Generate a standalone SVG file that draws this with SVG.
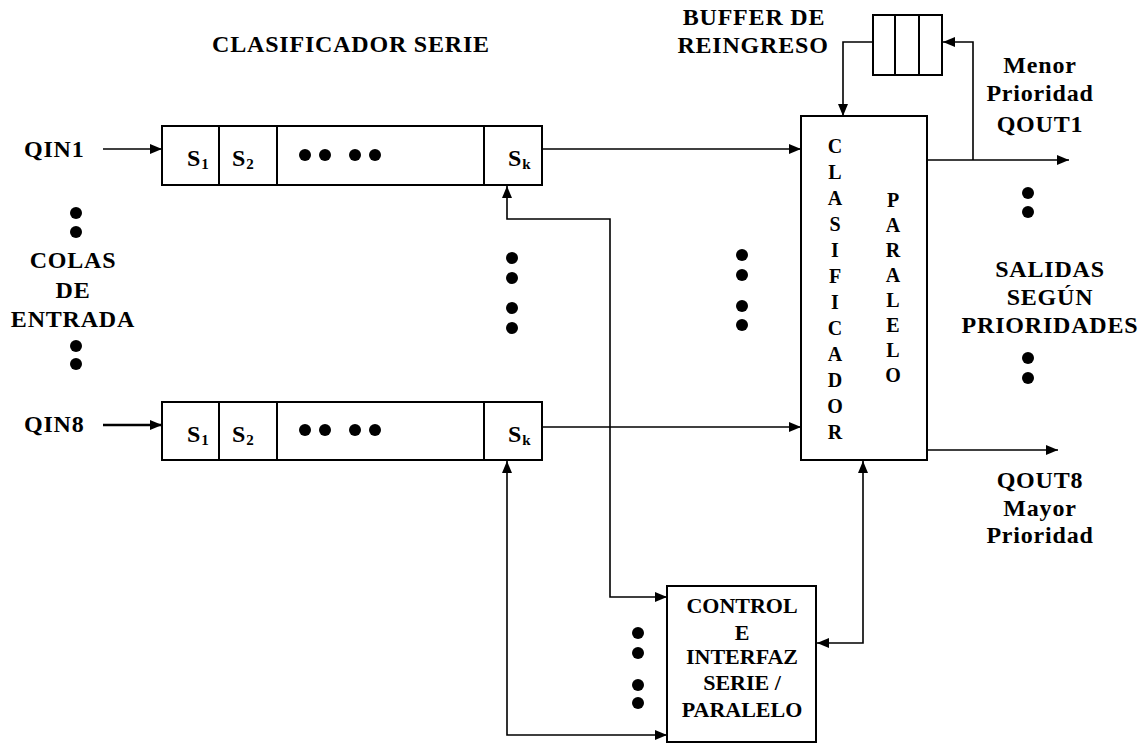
<svg xmlns="http://www.w3.org/2000/svg" width="1144" height="744" viewBox="0 0 1144 744">
<style>
text{font-family:"Liberation Serif","Times New Roman",serif;fill:#000;font-weight:bold}
.t{font-size:24px;letter-spacing:0.8px}
.m{font-size:22px}
.v{font-size:20px}
.c{text-anchor:middle}
.sub{font-size:15px;letter-spacing:0}
.box{fill:#fff;stroke:#000;stroke-width:2}
.ln{fill:none;stroke:#000;stroke-width:1.6}
.div{stroke:#000;stroke-width:2}
.dot{fill:#000}
</style>
<defs>
<marker id="ah" markerUnits="userSpaceOnUse" markerWidth="12" markerHeight="12" viewBox="0 0 12 12" refX="12" refY="6" orient="auto">
<path d="M0,1 L12,6 L0,11 z" fill="#000"/>
</marker>
<marker id="ahs" markerUnits="userSpaceOnUse" markerWidth="12" markerHeight="12" viewBox="0 0 12 12" refX="0" refY="6" orient="auto">
<path d="M12,1 L0,6 L12,11 z" fill="#000"/>
</marker>
</defs>
<rect width="1144" height="744" fill="#fff"/>

<g id="connectors">
<line class="ln" x1="103" y1="149" x2="162" y2="149" marker-end="url(#ah)"/>
<line class="ln" x1="103" y1="425" x2="162" y2="425" style="stroke-width:2.6" marker-end="url(#ah)"/>
<line class="ln" x1="542" y1="149" x2="801" y2="149" marker-end="url(#ah)"/>
<line class="ln" x1="542" y1="427" x2="801" y2="427" marker-end="url(#ah)"/>
<polyline class="ln" points="507,186 507,219 610,219 610,597 667,597" marker-start="url(#ahs)" marker-end="url(#ah)"/>
<polyline class="ln" points="507,461 507,735 667,735" marker-start="url(#ahs)" marker-end="url(#ah)"/>
<polyline class="ln" points="817,643 863,643 863,461" marker-start="url(#ahs)" marker-end="url(#ah)"/>
<polyline class="ln" points="873,42 843,42 843,116" marker-end="url(#ah)"/>
<line class="ln" x1="927" y1="160" x2="1069" y2="160" marker-end="url(#ah)"/>
<polyline class="ln" points="973,160 973,42 943,42" marker-end="url(#ah)"/>
<line class="ln" x1="927" y1="450" x2="1058" y2="450" marker-end="url(#ah)"/>
</g>

<g id="queue-top">
<rect class="box" x="162" y="126" width="380" height="59"/>
<line class="div" x1="219" y1="126" x2="219" y2="185"/>
<line class="div" x1="277" y1="126" x2="277" y2="185"/>
<line class="div" x1="484" y1="126" x2="484" y2="185"/>
<text class="t" x="187" y="166">S<tspan class="sub" dy="3">1</tspan></text>
<text class="t" x="232" y="166">S<tspan class="sub" dy="3">2</tspan></text>
<text class="t" x="508" y="166">S<tspan class="sub" dy="3">k</tspan></text>
<circle class="dot" cx="305" cy="155" r="6"/>
<circle class="dot" cx="325" cy="155" r="6"/>
<circle class="dot" cx="355" cy="155" r="6"/>
<circle class="dot" cx="375" cy="155" r="6"/>
</g>

<g id="queue-bottom">
<rect class="box" x="162" y="402" width="380" height="58"/>
<line class="div" x1="219" y1="402" x2="219" y2="460"/>
<line class="div" x1="277" y1="402" x2="277" y2="460"/>
<line class="div" x1="484" y1="402" x2="484" y2="460"/>
<text class="t" x="187" y="442">S<tspan class="sub" dy="3">1</tspan></text>
<text class="t" x="232" y="442">S<tspan class="sub" dy="3">2</tspan></text>
<text class="t" x="508" y="442">S<tspan class="sub" dy="3">k</tspan></text>
<circle class="dot" cx="305" cy="430" r="6"/>
<circle class="dot" cx="325" cy="430" r="6"/>
<circle class="dot" cx="355" cy="430" r="6"/>
<circle class="dot" cx="375" cy="430" r="6"/>
</g>

<g id="buffer">
<rect class="box" x="873" y="15" width="69" height="60"/>
<line class="div" x1="895" y1="15" x2="895" y2="75"/>
<line class="div" x1="919" y1="15" x2="919" y2="75"/>
</g>

<g id="clasificador-paralelo">
<rect class="box" x="801" y="116" width="126" height="344"/>
<text class="v c"><tspan x="835" y="153">C</tspan><tspan x="835" dy="26">L</tspan><tspan x="835" dy="26">A</tspan><tspan x="835" dy="26">S</tspan><tspan x="835" dy="26">I</tspan><tspan x="835" dy="26">F</tspan><tspan x="835" dy="26">I</tspan><tspan x="835" dy="26">C</tspan><tspan x="835" dy="26">A</tspan><tspan x="835" dy="26">D</tspan><tspan x="835" dy="26">O</tspan><tspan x="835" dy="26">R</tspan></text>
<text class="v c"><tspan x="893" y="207">P</tspan><tspan x="893" dy="25">A</tspan><tspan x="893" dy="25">R</tspan><tspan x="893" dy="25">A</tspan><tspan x="893" dy="25">L</tspan><tspan x="893" dy="25">E</tspan><tspan x="893" dy="25">L</tspan><tspan x="893" dy="25">O</tspan></text>
</g>

<g id="control">
<rect class="box" x="667" y="586" width="149" height="156"/>
<text class="m c" x="742" y="613">CONTROL</text>
<text class="m c" x="742" y="640">E</text>
<text class="m c" x="742" y="664">INTERFAZ</text>
<text class="m c" x="742" y="690">SERIE /</text>
<text class="m c" x="742" y="717">PARALELO</text>
</g>

<g id="labels">
<text class="t c" x="351" y="52">CLASIFICADOR SERIE</text>
<text class="t c" x="754" y="25">BUFFER DE</text>
<text class="t c" x="753" y="53">REINGRESO</text>
<text class="t" x="24" y="157">QIN1</text>
<text class="t" x="24" y="432">QIN8</text>
<text class="t c" x="73" y="268">COLAS</text>
<text class="t c" x="73" y="298">DE</text>
<text class="t c" x="73" y="327">ENTRADA</text>
<text class="t c" x="1040" y="73">Menor</text>
<text class="t c" x="1040" y="101">Prioridad</text>
<text class="t c" x="1040" y="132">QOUT1</text>
<text class="t c" x="1050" y="277">SALIDAS</text>
<text class="t c" x="1050" y="305">SEGÚN</text>
<text class="t c" x="1050" y="333">PRIORIDADES</text>
<text class="t c" x="1040" y="488">QOUT8</text>
<text class="t c" x="1040" y="516">Mayor</text>
<text class="t c" x="1040" y="543">Prioridad</text>
</g>

<g id="ellipses">
<circle class="dot" cx="76" cy="213" r="6"/>
<circle class="dot" cx="76" cy="232" r="6"/>
<circle class="dot" cx="76" cy="346" r="6"/>
<circle class="dot" cx="76" cy="364" r="6"/>
<circle class="dot" cx="512" cy="258" r="6"/>
<circle class="dot" cx="512" cy="278" r="6"/>
<circle class="dot" cx="512" cy="308" r="6"/>
<circle class="dot" cx="512" cy="328" r="6"/>
<circle class="dot" cx="742" cy="255" r="6"/>
<circle class="dot" cx="742" cy="275" r="6"/>
<circle class="dot" cx="742" cy="306" r="6"/>
<circle class="dot" cx="742" cy="325" r="6"/>
<circle class="dot" cx="1028" cy="193" r="6"/>
<circle class="dot" cx="1028" cy="212" r="6"/>
<circle class="dot" cx="1028" cy="358" r="6"/>
<circle class="dot" cx="1028" cy="378" r="6"/>
<circle class="dot" cx="638" cy="633" r="6"/>
<circle class="dot" cx="638" cy="653" r="6"/>
<circle class="dot" cx="638" cy="685" r="6"/>
<circle class="dot" cx="638" cy="703" r="6"/>
</g>
</svg>
